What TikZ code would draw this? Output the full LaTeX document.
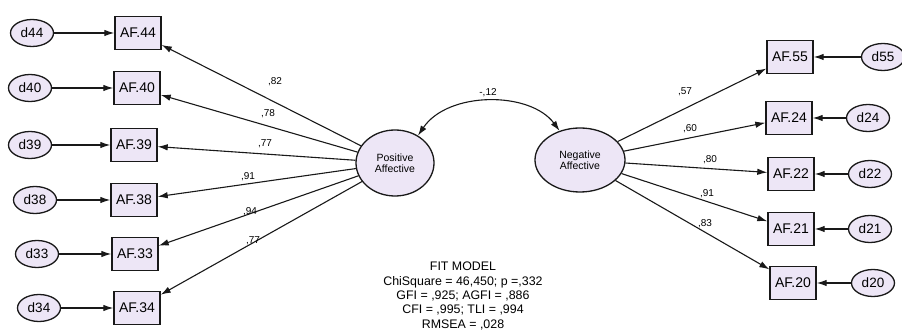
\documentclass[tikz,border=0pt]{standalone}
\usepackage{fontspec}
\setmainfont{Liberation Sans}
\usetikzlibrary{shapes.geometric,arrows.meta}
\definecolor{fillv}{RGB}{237,230,246}
\definecolor{ln}{RGB}{25,25,25}
\begin{document}
\begin{tikzpicture}[x=1pt,y=-1pt,
 err/.style={ellipse, draw=ln, line width=1.3pt, fill=fillv, minimum width=43pt, minimum height=27pt, inner sep=0pt, font=\fontsize{13.5}{13.5}\selectfont},
 obs/.style={rectangle, draw=ln, line width=1.4pt, fill=fillv, minimum width=46pt, minimum height=33pt, inner sep=0pt, font=\fontsize{14}{14}\selectfont},
 lat/.style={ellipse, draw=ln, line width=1.3pt, fill=fillv, inner sep=0pt, align=center, font=\fontsize{10.5}{11}\selectfont},
 ld/.style={font=\fontsize{10}{10}\selectfont, inner sep=0pt},
 ar/.style={draw=ln, line width=1.1pt, -{Latex[length=10pt,width=6.5pt]}},
 ar2/.style={draw=ln, line width=1.1pt, {Latex[length=10pt,width=6.5pt]}-{Latex[length=10pt,width=6.5pt]}},
]
\useasboundingbox[fill=white] (0,0) rectangle (902,336);

% latent variables
\node[lat, minimum width=78pt, minimum height=66pt] (PA) at (395,163) {Positive\\Affective};
\node[lat, minimum width=90pt, minimum height=64pt] (NA) at (580,160) {Negative\\Affective};

% left side
\foreach \n/\dx/\ax/\y in {44/32/138/33, 40/30/137/88, 39/30/134/145, 38/35/134/200, 33/37/135/254, 34/39/137/308}{
  \node[err] (d\n) at (\dx,\y) {d\n};
  \node[obs] (AF\n) at (\ax,\y) {AF.\n};
  \draw[ar] (d\n) -- (AF\n);
  \draw[ar] (PA) -- (AF\n);
}

% right side
\foreach \n/\ax/\dx/\y in {55/790/883/57, 24/789/868/118, 22/791/870/174, 21/791/870/229, 20/793/873/283}{
  \node[obs] (AF\n) at (\ax,\y) {AF.\n};
  \node[err] (d\n) at (\dx,\y) {d\n};
  \draw[ar] (d\n) -- (AF\n);
  \draw[ar] (NA) -- (AF\n);
}

% covariance
\draw[ar2] (PA.50) .. controls (448,91) and (530,91) .. (NA.125);
\node[ld] (cov) at (488,93) {-,12};

% loadings left
\node[ld] (l44) at (275,82) {,82};
\node[ld] (l40) at (268,114) {,78};
\node[ld] (l39) at (265,144) {,77};
\node[ld] (l38) at (248,177) {,91};
\node[ld] (l33) at (250,212) {,94};
\node[ld] (l34) at (253,241) {,77};

% loadings right
\node[ld] (l55) at (685,92) {,57};
\node[ld] (l24) at (690,129) {,60};
\node[ld] (l22) at (710,160) {,80};
\node[ld] (l21) at (707,194) {,91};
\node[ld] (l20) at (705,224) {,83};

% fit
\node[align=center, inner sep=0pt, font=\fontsize{12.4}{14.3}\selectfont] (fit) at (463,296)
 {FIT MODEL\\ChiSquare = 46,450; p =,332\\GFI = ,925; AGFI = ,886\\CFI = ,995; TLI = ,994\\RMSEA = ,028};
\end{tikzpicture}
\end{document}
